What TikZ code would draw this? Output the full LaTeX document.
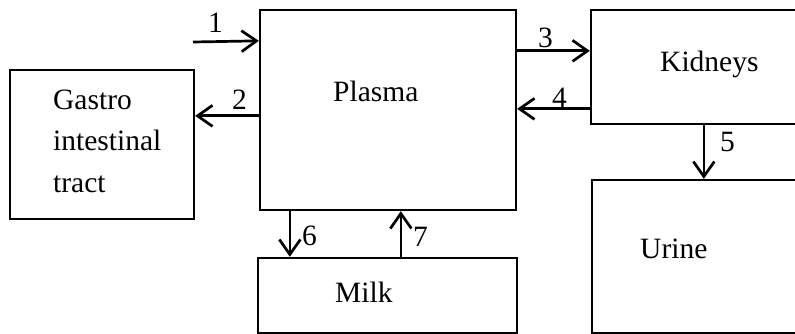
\documentclass[tikz,border=0pt]{standalone}
\usepackage{fontspec}
\setmainfont{Liberation Serif}
\usetikzlibrary{arrows.meta,calc}
\tikzset{
	box/.style={draw, line width=2.3pt, inner sep=0pt},
	flow/.style={-{Straight Barb[length=15pt,width=21pt]}, line width=2.7pt},
	tag/.style={anchor=base west, inner sep=0pt, font=\fontsize{29.5}{41.5}\selectfont}
}

\begin{document}
\begin{tikzpicture}[x=1pt, y=-1pt]
		\useasboundingbox (0, 0) rectangle (795, 334);

		\node[box, minimum width=184pt, minimum height=149pt] (gut) at (102, 144.5) {};
		\node[box, minimum width=256pt, minimum height=200pt] (plasma) at (388, 110) {};
		\node[box, minimum width=259pt, minimum height=75pt] (milk) at (387.5, 295.5) {};
		\node[box, minimum width=219pt, minimum height=114pt] (kidneys) at (700.5, 67) {};
		\node[box, minimum width=218pt, minimum height=153pt] (urine) at (701, 256.5) {};

		% base of a multi-line node is its last line
		\node[tag, align=left] (guttext) at (53, 192) {Gastro\\intestinal\\tract};
		\node[tag] (plasmatext) at (333, 102) {Plasma};
		\node[tag] (milktext) at (335, 302) {Milk};
		\node[tag] (kidneystext) at (660, 72) {Kidneys};
		\node[tag] (urinetext) at (640, 258) {Urine};

		\coordinate (intake) at (193, 42);
		\coordinate (p1) at ([yshift=-32pt]plasma.north west);
		\coordinate (p2) at ([yshift=-107pt]plasma.north west);
		\coordinate (p3) at ([yshift=-42pt]plasma.north east);
		\coordinate (k4) at ([yshift=-100pt]kidneys.north west);
		\coordinate (k5) at ([xshift=114pt]kidneys.south west);
		\coordinate (p6) at ([xshift=31pt]plasma.south west);
		\coordinate (p7) at ([xshift=142pt]plasma.south west);

		\draw[flow] (intake) to (p1);
		\draw[flow] (p2) to (gut.east |- p2);
		\draw[flow] (p3) to (kidneys.west |- p3);
		\draw[flow] (k4) to (plasma.east |- k4);
		\draw[flow] (k5) to (urine.north -| k5);
		\draw[flow] (p6) to (milk.north -| p6);
		\draw[flow] (milk.north -| p7) to (p7);

		\node[tag] (n1) at (208, 33) {1};
		\node[tag] (n2) at (232, 110) {2};
		\node[tag] (n3) at (538, 48) {3};
		\node[tag] (n4) at (552, 108) {4};
		\node[tag] (n5) at (720, 152) {5};
		\node[tag] (n6) at (302, 245) {6};
		\node[tag] (n7) at (413, 246) {7};
	\end{tikzpicture}
\end{document}
